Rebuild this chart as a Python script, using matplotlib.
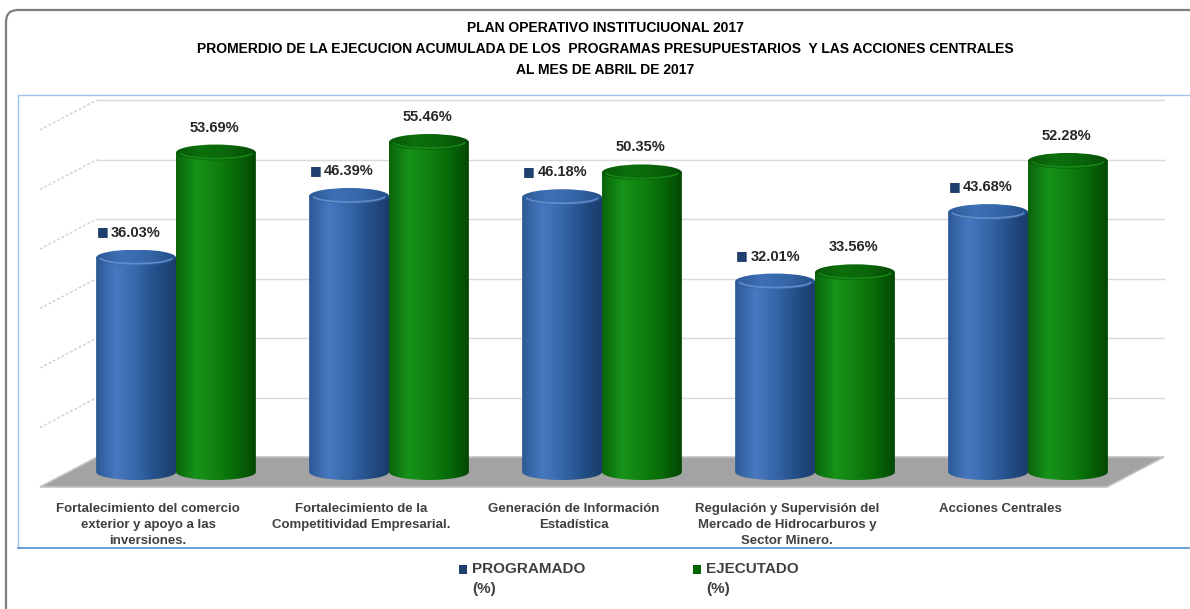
import numpy as np
import matplotlib
matplotlib.use("Agg")
import matplotlib.pyplot as plt
import matplotlib.patches as mpatches
from matplotlib.path import Path
from matplotlib.colors import LinearSegmentedColormap
from matplotlib.transforms import IdentityTransform

# data
categories = ["Fortalecimiento del comercio\nexterior y apoyo a las\ninversiones.",
              "Fortalecimiento de la\nCompetitividad Empresarial.",
              "Generación de Información\nEstadística",
              "Regulación y Supervisión del\nMercado de Hidrocarburos y\nSector Minero.",
              "Acciones Centrales"]
programado = [36.03, 46.39, 46.18, 32.01, 43.68]
ejecutado = [53.69, 55.46, 50.35, 33.56, 52.28]
series_names = ["PROGRAMADO\n(%)", "EJECUTADO\n(%)"]
title = ("PLAN OPERATIVO INSTITUCIUONAL 2017\n"
         "PROMERDIO DE LA EJECUCION ACUMULADA DE LOS  PROGRAMAS PRESUPUESTARIOS  Y LAS ACCIONES CENTRALES\n"
         "AL MES DE ABRIL DE 2017")

W, H = 1190, 609
dpi = 100
narrow = ['Liberation Sans Narrow', 'Liberation Sans', 'DejaVu Sans']
sans = ['Liberation Sans', 'DejaVu Sans']

fig = plt.figure(figsize=(W/dpi, H/dpi), dpi=dpi, facecolor='white')

# outer rounded frame (pixels)
frame = mpatches.FancyBboxPatch((6, -30), 1300, H - 10 + 30,
                                boxstyle="round,pad=0,rounding_size=12",
                                transform=IdentityTransform(), facecolor='none',
                                edgecolor='#7f7f7f', lw=1.6)
fig.add_artist(frame)

# plot area, pixel box 18..1190 x 95..548
ax = fig.add_axes([18/W, (H-548)/H, (W-18)/W, (548-95)/H])
ax.set_facecolor('white')
px_x = 213.0   # pixels per category
px_y = 5.95    # pixels per percent
base_px = 472  # floor middle
x_left = (18 - 176)/px_x
x_right = (W - 176)/px_x
y_low = -(548 - base_px)/px_y
y_high = (base_px - 95)/px_y

depth_x = 57/px_x
depth_y = 30/px_y
cap_h = 16/px_y
bw = 0.375

# floor
fx0, fx1 = (40 - 176)/px_x, (1107 - 176)/px_x
floor = mpatches.Polygon([(fx0, -depth_y/2), (fx1, -depth_y/2),
                          (fx1 + depth_x, depth_y/2), (fx0 + depth_x, depth_y/2)],
                         closed=True, facecolor='#a3a3a3', edgecolor='#c4c4c4', lw=1.2, zorder=1)
ax.add_patch(floor)

# back wall gridlines + dashed left wall
for k in range(1, 7):
    ax.plot([fx0 + depth_x, fx1 + depth_x], [10*k + depth_y/2]*2, color='#d9d9d9', lw=1, zorder=0.5)
    ax.plot([fx0, fx0 + depth_x], [10*k - depth_y/2, 10*k + depth_y/2], color='#d0d0d0',
            lw=1, ls=(0, (2, 1.5)), zorder=0.5)

x = np.arange(len(categories))
blue_cmap = LinearSegmentedColormap.from_list('b', ['#2c5a97', '#4878c0', '#3767a9', '#24508a', '#1b3c6a'])
green_cmap = LinearSegmentedColormap.from_list('g', ['#0a640a', '#17931a', '#108210', '#086a08', '#034803'])
grad = np.linspace(0, 1, 200).reshape(1, -1)

def cylinders(bars, cmap, cap_color, rim_color, z):
    for b in bars:
        x0, w, h = b.get_x(), b.get_width(), b.get_height()
        xc = x0 + w/2
        b.set_visible(False)
        t = np.linspace(np.pi, 2*np.pi, 40)
        verts = [(x0, h), (x0, 0)] + list(zip(xc + w/2*np.cos(t), cap_h/2*np.sin(t))) + [(x0 + w, h), (x0, h)]
        codes = [Path.MOVETO] + [Path.LINETO]*(len(verts) - 2) + [Path.CLOSEPOLY]
        body = mpatches.PathPatch(Path(verts, codes), transform=ax.transData, facecolor='none', edgecolor='none')
        ax.add_patch(body)
        im = ax.imshow(grad, cmap=cmap, extent=(x0, x0 + w, -cap_h/2, h), aspect='auto',
                       interpolation='bilinear', zorder=z)
        im.set_clip_path(body)
        cap = mpatches.Ellipse((xc, h), w, cap_h, facecolor='none', edgecolor='none')
        ax.add_patch(cap)
        im2 = ax.imshow(grad, cmap=cap_color, extent=(x0, x0 + w, h - cap_h/2, h + cap_h/2), aspect='auto',
                        interpolation='bilinear', zorder=z + 0.1)
        im2.set_clip_path(cap)
        rim = mpatches.Arc((xc, h), w*0.9, cap_h*0.75, theta1=200, theta2=340, color=rim_color, lw=1.2,
                           alpha=0.8, zorder=z + 0.2)
        ax.add_patch(rim)

blue_cap = LinearSegmentedColormap.from_list('bc', ['#2d5b98', '#3f70b6', '#3565a8', '#244f88'])
green_cap = LinearSegmentedColormap.from_list('gc', ['#085808', '#0c700c', '#0a650a', '#054c05'])
b1 = ax.bar(x - bw/2, programado, bw, color='#2c5a97')
b2 = ax.bar(x + bw/2, ejecutado, bw, color='#0f7d0f')
cylinders(b1, blue_cmap, blue_cap, '#6d97d3', 2)
cylinders(b2, green_cmap, green_cap, '#1b8f1b', 3)

# value labels
for xi, v in zip(x - bw/2, programado):
    ax.annotate(f"{v:.2f}%", (xi, v), xytext=(0, 18), textcoords='offset points', ha='center', va='center',
                fontsize=10.5, fontweight='bold', color='#262626', family=sans, zorder=5)
    ax.annotate("■", (xi, v), xytext=(-24, 18.5), textcoords='offset points', ha='center', va='center',
                fontsize=9, color='#1f3f6e', family='DejaVu Sans', zorder=5)
for xi, v in zip(x + bw/2, ejecutado):
    ax.annotate(f"{v:.2f}%", (xi, v), xytext=(-1, 18), textcoords='offset points', ha='center', va='center',
                fontsize=10.5, fontweight='bold', color='#262626', family=sans, zorder=5)

# category labels
for xi, lab in zip(x, categories):
    ax.text(xi - 28/px_x, -5.2, lab, ha='center', va='top', fontsize=9.5, fontweight='bold',
            color='#404040', family=sans, linespacing=1.45, zorder=5)

ax.set_xlim(x_left, x_right)
ax.set_ylim(y_low, y_high)
ax.set_xticks([])
ax.set_yticks([])
for s in ['top', 'left']:
    ax.spines[s].set_color('#9fc2e8')
    ax.spines[s].set_linewidth(1)
ax.spines['right'].set_visible(False)
ax.spines['bottom'].set_color('#5b9bd5')
ax.spines['bottom'].set_linewidth(1.3)

# title
fig.text(605/W, 1 - 49/H, title, ha='center', va='center', fontsize=10, fontweight='bold',
         color='black', family=narrow, linespacing=1.6)

# legend
leg_colors = ['#1f3f6e', '#006400']
leg_x = [459, 693]
for lx, c, name in zip(leg_x, leg_colors, series_names):
    fig.add_artist(mpatches.Rectangle((lx, H - 574), 8, 9, transform=IdentityTransform(),
                                      facecolor=c, edgecolor='none'))
    fig.text((lx + 13)/W, 1 - 562/H, name, ha='left', va='top', fontsize=11, fontweight='bold',
             color='#404040', family=narrow, linespacing=1.55)

fig.savefig('out.png', dpi=dpi, facecolor='white')
